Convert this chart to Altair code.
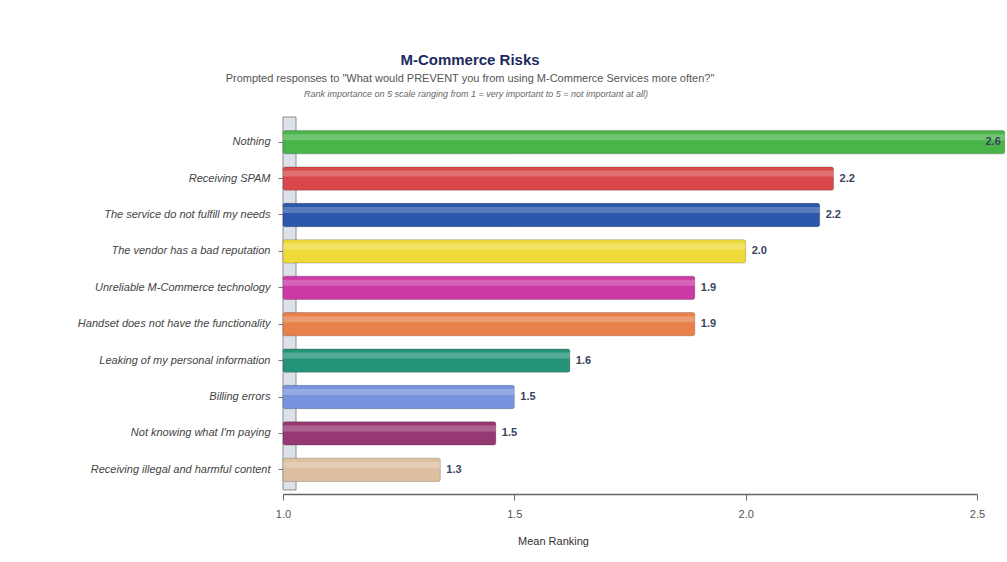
import altair as alt
import pandas as pd

categories = [
    "Nothing",
    "Receiving SPAM",
    "The service do not fulfill my needs",
    "The vendor has a bad reputation",
    "Unreliable M-Commerce technology",
    "Handset does not have the functionality",
    "Leaking of my personal information",
    "Billing errors",
    "Not knowing what I'm paying",
    "Receiving illegal and harmful content",
]
values = [2.56, 2.19, 2.16, 2.0, 1.89, 1.89, 1.62, 1.50, 1.46, 1.34]
colors = ["#49b449", "#d8474a", "#2b58ab", "#eedb3a", "#cc38a6",
          "#e8804a", "#249378", "#7894de", "#963872", "#dcc0a0"]
x_ticks = [1.0, 1.5, 2.0, 2.5]
base_value = 1.0
note_text = ["Rank importance on 5 scale ranging from 1 = very important to 5 = not important at all)"]

df = pd.DataFrame({
    "risk": categories,
    "mean": values,
    "base": [base_value] * len(categories),
    "label": [f"{v:.1f}" for v in values],
})
note_df = pd.DataFrame({"note": note_text})

W, H = 694, 364
X_MAX = 2.5

y_enc = alt.Y("risk:N", sort=categories, title=None,
              scale=alt.Scale(paddingInner=0.36, paddingOuter=0.18),
              axis=alt.Axis(labelFontStyle="italic", labelFontSize=11,
                            labelColor="#444444", labelFont="Liberation Sans",
                            labelPadding=8, tickSize=5, tickColor="#777777",
                            domainColor="#888888", labelLimit=270))
x_scale = alt.Scale(domain=[1.0, X_MAX], nice=False, zero=False)
x_enc = alt.X("mean:Q", scale=x_scale, title="Mean Ranking",
              axis=alt.Axis(values=x_ticks, format=".1f", grid=False,
                            labelFlush=False, offset=6,
                            labelFontSize=11, labelColor="#555555",
                            labelFont="Liberation Sans", labelPadding=8,
                            tickSize=6, tickColor="#666666",
                            domainColor="#666666", domainWidth=1.5,
                            titleFont="Liberation Sans", titleFontSize=11,
                            titleFontWeight="normal", titleColor="#333333",
                            titlePadding=16, titleX=270, titleAlign="center"))

wall = alt.Chart(note_df).mark_rect(color="#dde1e8", stroke="#8a8f99",
                                    strokeWidth=1).encode(
    x=alt.value(0), x2=alt.value(13), y=alt.value(-7), y2=alt.value(H + 2))

bars = alt.Chart(df).mark_bar(cornerRadiusEnd=2, stroke="#00000033",
                              strokeWidth=1).encode(
    y=y_enc, x=x_enc, x2="base:Q",
    color=alt.Color("risk:N", sort=categories,
                    scale=alt.Scale(domain=categories, range=colors),
                    legend=None))

shine = alt.Chart(df).mark_bar(color="white", opacity=0.22, size=6,
                               yOffset=-5).encode(
    y=alt.Y("risk:N", sort=categories), x=alt.X("mean:Q", scale=x_scale),
    x2="base:Q")

labels_out = alt.Chart(df).transform_filter(
    alt.datum.mean <= X_MAX).mark_text(
    align="left", baseline="middle", dx=6, fontWeight="bold", fontSize=11,
    font="Liberation Sans", color="#3a4460").encode(
    y=alt.Y("risk:N", sort=categories), x=alt.X("mean:Q", scale=x_scale),
    text="label:N")

labels_in = alt.Chart(df).transform_filter(
    alt.datum.mean > X_MAX).mark_text(
    align="right", baseline="middle", dx=-4, fontWeight="bold", fontSize=11,
    font="Liberation Sans", color="#3a4460").encode(
    y=alt.Y("risk:N", sort=categories), x=alt.X("mean:Q", scale=x_scale),
    text="label:N")

note = alt.Chart(note_df).mark_text(
    fontStyle="italic", fontSize=9, color="#666666", font="Liberation Sans",
    align="center", baseline="middle").encode(
    x=alt.value(193), y=alt.value(-30), text="note:N")

chart = alt.layer(wall, bars, shine, labels_out, labels_in, note).properties(
    width=W, height=H,
    background="white",
    autosize=alt.AutoSizeParams(type="none"),
    title=alt.TitleParams(
        text="M-Commerce Risks",
        subtitle='Prompted responses to "What would PREVENT you from using M-Commerce Services more often?"',
        anchor="middle", dx=-160, offset=6,
        font="Liberation Sans",
        fontSize=15, fontWeight="bold",
        color="#1c2b5e",
        subtitleFont="Liberation Sans", subtitleFontSize=11,
        subtitleColor="#555555", subtitlePadding=5),
    padding={"left": 283, "top": 124, "right": 30, "bottom": 74},
).configure_view(strokeWidth=0)

chart.save("out.html", embed_options={"renderer": "svg", "actions": False})
